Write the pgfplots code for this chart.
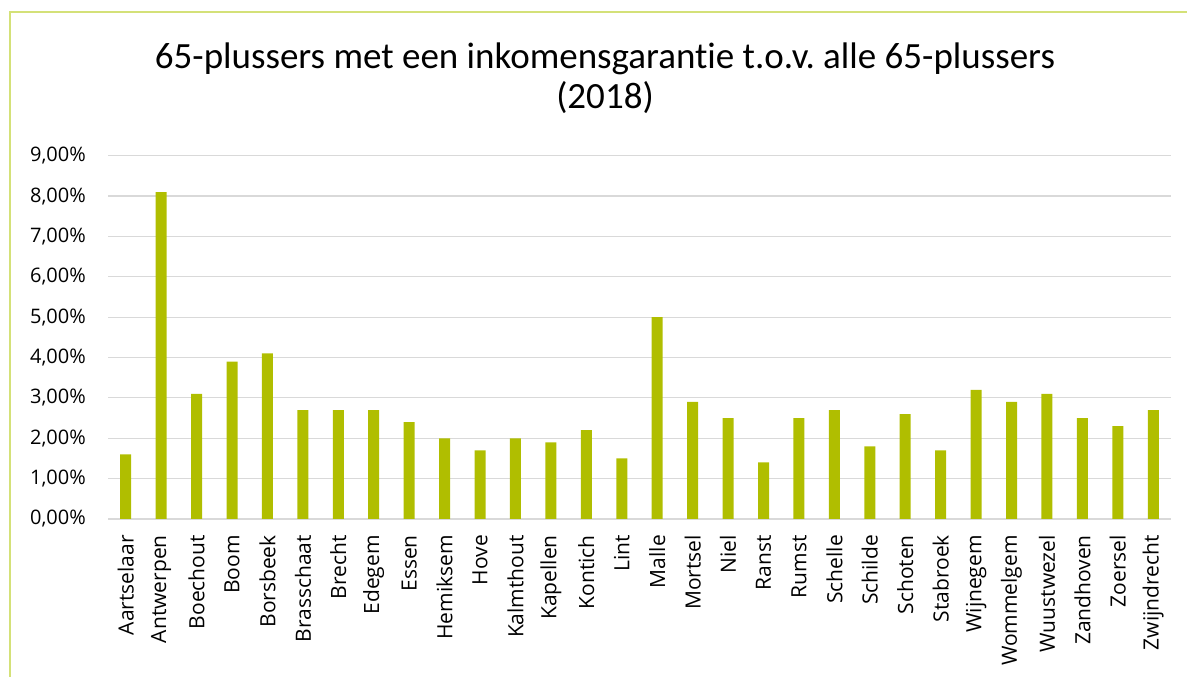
\documentclass[border=0pt]{standalone}
\usepackage{pgfplots}
\pgfplotsset{compat=1.18}
\usepackage{fontspec}
\setmainfont[Ligatures=NoCommon]{Carlito}
\newfontfamily\labfont{Open Sans}
\definecolor{barc}{RGB}{176,190,0}
\definecolor{gridc}{RGB}{217,217,217}
\definecolor{framec}{RGB}{212,225,120}
\frenchspacing
\begin{document}
\begin{tikzpicture}[x=1bp,y=1bp]
\useasboundingbox (0,0) rectangle (1187,677);
\draw[framec, line width=1.5bp] (10,-20) -- (10,665) -- (1200,665);
\node[font=\fontsize{37bp}{44bp}\selectfont, anchor=base] at (605,677-69) {65-plussers met een inkomensgarantie t.o.v.\ alle 65-plussers};
\node[font=\fontsize{37bp}{44bp}\selectfont, anchor=base] at (605,677-109) {(2018)};
\begin{axis}[
  at={(108bp,158bp)}, anchor=south west,
  scale only axis, width=1063bp, height=363.3bp,
  xmin=-0.5, xmax=29.5, ymin=0, ymax=9,
  axis lines*=left,
  x axis line style={gridc, line width=1.2bp, -},
  y axis line style={draw=none},
  ymajorgrids, grid style={gridc, line width=1.2bp},
  ytick={0,1,...,9},
  yticklabels={0{,}00\%,1{,}00\%,2{,}00\%,3{,}00\%,4{,}00\%,5{,}00\%,6{,}00\%,7{,}00\%,8{,}00\%,9{,}00\%},
  major tick length=0pt,
  xtick={0,...,29},
  xticklabels={Aartselaar,Antwerpen,Boechout,Boom,Borsbeek,Brasschaat,Brecht,Edegem,Essen,Hemiksem,Hove,Kalmthout,Kapellen,Kontich,Lint,Malle,Mortsel,Niel,Ranst,Rumst,Schelle,Schilde,Schoten,Stabroek,Wijnegem,Wommelgem,Wuustwezel,Zandhoven,Zoersel,Zwijndrecht},
  xticklabel style={font=\labfont\fontsize{21bp}{24bp}\selectfont, yshift=-16bp, rotate=90, anchor=east, inner sep=0pt},
  yticklabel style={font=\labfont\fontsize{20bp}{24bp}\selectfont, anchor=east, inner sep=0pt, xshift=-22bp},
]
\addplot[ybar, bar width=11bp, bar shift=0pt, fill=barc, draw=none] coordinates {
(0,1.6)(1,8.1)(2,3.1)(3,3.9)(4,4.1)(5,2.7)(6,2.7)(7,2.7)(8,2.4)(9,2.0)
(10,1.7)(11,2.0)(12,1.9)(13,2.2)(14,1.5)(15,5.0)(16,2.9)(17,2.5)(18,1.4)(19,2.5)
(20,2.7)(21,1.8)(22,2.6)(23,1.7)(24,3.2)(25,2.9)(26,3.1)(27,2.5)(28,2.3)(29,2.7)
};
\end{axis}
\end{tikzpicture}
\end{document}
